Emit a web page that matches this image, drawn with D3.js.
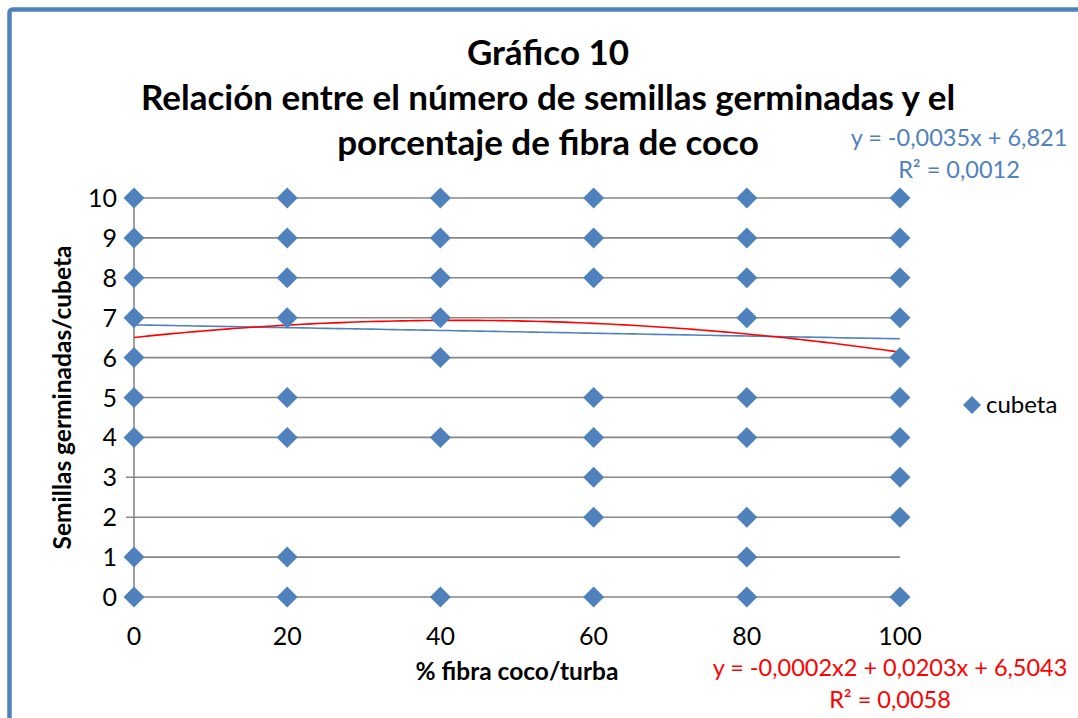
<!DOCTYPE html>
<meta charset="utf-8">
<script src="https://d3js.org/d3.v7.min.js"></script>
<style>
  body { margin: 0; background: #fff; }
  text { font-family: Lato, "Open Sans", sans-serif; }
</style>
<svg id="chart" width="1078" height="718"></svg>
<script>

// Data
var xCategories = [0, 20, 40, 60, 80, 100];
var yTicks = [0, 1, 2, 3, 4, 5, 6, 7, 8, 9, 10];
var seriesName = "cubeta";
// semillas germinadas per cubeta, one list per % fibra
var valuesAt0 = [10, 9, 8, 7, 6, 5, 4, 1, 0];
var valuesAt20 = [10, 9, 8, 7, 5, 4, 1, 0];
var valuesAt40 = [10, 9, 8, 7, 6, 4, 0];
var valuesAt60 = [10, 9, 8, 5, 4, 3, 2, 0];
var valuesAt80 = [10, 9, 8, 7, 5, 4, 2, 1, 0];
var valuesAt100 = [10, 9, 8, 7, 6, 5, 4, 3, 2, 0];
// trendline coefficients (c0, c1, c2)
var linearCoef = [6.821, -0.0035];
var polyCoef = [6.5043, 0.0203, -0.00024];
var linearLabel = ["y = -0,0035x + 6,821", "R² = 0,0012"];
var polyLabel = ["y = -0,0002x2 + 0,0203x + 6,5043", "R² = 0,0058"];
var titleLines = ["Gráfico 10", "Relación entre el número de semillas germinadas y el", "porcentaje de fibra de coco"];

var svg = d3.select("#chart");

// outer frame
svg.append("rect")
  .attr("x", 9.5).attr("y", 9.5)
  .attr("width", 1200).attr("height", 900)
  .attr("rx", 3)
  .attr("fill", "none")
  .attr("stroke", "#4f81bd")
  .attr("stroke-width", 4.5);

var x = d3.scaleLinear().domain([0, 100]).range([134, 900]);
var y = d3.scaleLinear().domain([0, 10]).range([597, 198]);

// gridlines (with left tick extension)
svg.append("g")
  .selectAll("line")
  .data(yTicks)
  .enter()
  .append("line")
    .attr("x1", 126).attr("x2", x(100))
    .attr("y1", function(d) { return y(d); })
    .attr("y2", function(d) { return y(d); })
    .attr("stroke", "#878787")
    .attr("stroke-width", 1.6);

// y axis line
svg.append("line")
  .attr("x1", x(0)).attr("x2", x(0))
  .attr("y1", y(10)).attr("y2", y(0) + 8)
  .attr("stroke", "#878787")
  .attr("stroke-width", 1.6);

// tick labels
svg.append("g")
  .selectAll("text")
  .data(yTicks)
  .enter()
  .append("text")
    .attr("x", 117)
    .attr("y", function(d) { return y(d) + 9; })
    .attr("text-anchor", "end")
    .attr("font-size", 25)
    .attr("fill", "#000")
    .text(function(d) { return d; });

svg.append("g")
  .selectAll("text")
  .data(xCategories)
  .enter()
  .append("text")
    .attr("x", function(d) { return x(d); })
    .attr("y", 645)
    .attr("text-anchor", "middle")
    .attr("font-size", 25)
    .attr("fill", "#000")
    .text(function(d) { return d; });

// axis titles
svg.append("text")
  .attr("transform", "translate(71," + ((y(0) + y(10)) / 2) + ") rotate(-90)")
  .attr("text-anchor", "middle")
  .attr("font-size", 24.5)
  .attr("font-weight", "bold")
  .text("Semillas germinadas/cubeta");

svg.append("text")
  .attr("x", 517).attr("y", 680)
  .attr("text-anchor", "middle")
  .attr("font-size", 24.5)
  .attr("font-weight", "bold")
  .text("% fibra coco/turba");

// title
svg.append("g")
  .selectAll("text")
  .data(titleLines)
  .enter()
  .append("text")
    .attr("x", 548)
    .attr("y", function(d, i) { return 65 + i * 45; })
    .attr("text-anchor", "middle")
    .attr("font-size", 35)
    .attr("font-weight", "bold")
    .text(function(d) { return d; });

// trendlines
var xs = d3.range(0, 100.5, 1);
var linePath = d3.line()
  .x(function(d) { return x(d[0]); })
  .y(function(d) { return y(d[1]); });

svg.append("path")
  .attr("d", linePath(xs.map(function(v) { return [v, linearCoef[0] + linearCoef[1] * v]; })))
  .attr("fill", "none")
  .attr("stroke", "#4f81bd")
  .attr("stroke-width", 1.6);

svg.append("path")
  .attr("d", linePath(xs.map(function(v) { return [v, polyCoef[0] + polyCoef[1] * v + polyCoef[2] * v * v]; })))
  .attr("fill", "none")
  .attr("stroke", "#ff0000")
  .attr("stroke-width", 1.6);

// points
var points = [];
[valuesAt0, valuesAt20, valuesAt40, valuesAt60, valuesAt80, valuesAt100].forEach(function(vals, i) {
  vals.forEach(function(v) { points.push({ x: xCategories[i], y: v }); });
});

var diamond = "M0,-10.5L10.5,0L0,10.5L-10.5,0Z";
svg.append("g")
  .selectAll("path")
  .data(points)
  .enter()
  .append("path")
    .attr("transform", function(d) { return "translate(" + x(d.x) + "," + y(d.y) + ")"; })
    .attr("d", diamond)
    .attr("fill", "#4f81bd");

// trendline labels
svg.append("g")
  .selectAll("text")
  .data(linearLabel)
  .enter()
  .append("text")
    .attr("x", 959)
    .attr("y", function(d, i) { return 146 + i * 32; })
    .attr("text-anchor", "middle")
    .attr("font-size", 23.5)
    .attr("fill", "#4f81bd")
    .text(function(d) { return d; });

svg.append("g")
  .selectAll("text")
  .data(polyLabel)
  .enter()
  .append("text")
    .attr("x", 890)
    .attr("y", function(d, i) { return 676 + i * 32; })
    .attr("text-anchor", "middle")
    .attr("font-size", 23.5)
    .attr("fill", "#ff0000")
    .text(function(d) { return d; });

// legend
svg.append("path")
  .attr("transform", "translate(972,405)")
  .attr("d", "M0,-9L9,0L0,9L-9,0Z")
  .attr("fill", "#4f81bd");
svg.append("text")
  .attr("x", 986).attr("y", 413)
  .attr("font-size", 24)
  .text(seriesName);

</script>
